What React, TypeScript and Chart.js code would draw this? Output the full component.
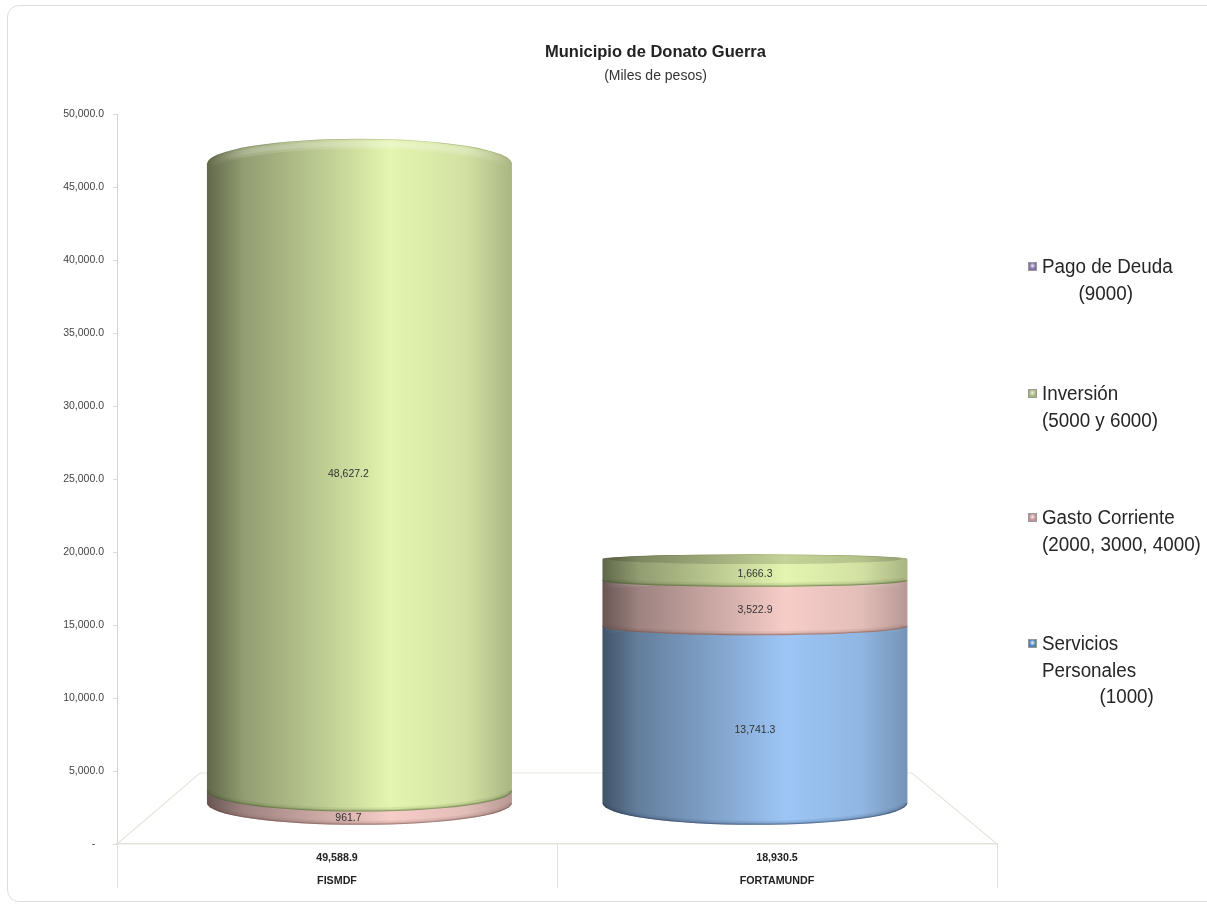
import React, { useEffect, useRef } from "react";
import { Chart, registerables } from "chart.js";

Chart.register(...registerables);

const categories = ["FISMDF", "FORTAMUNDF"];
const totals = ["49,588.9", "18,930.5"];
const serviciosPersonales = [0, 13741.3];
const gastoCorriente = [961.7, 3522.9];
const inversion = [48627.2, 1666.3];
const pagoDeuda = [0, 0];
const seriesNames = ["Servicios Personales", "Gasto Corriente", "Inversión", "Pago de Deuda"];
const legendRows = [
  { lines: ["Pago de Deuda", "       (9000)"], color: "#7d6ca8", top: 253 },
  { lines: ["Inversión", "(5000 y 6000)"], color: "#a6b878", top: 380 },
  { lines: ["Gasto Corriente", "(2000, 3000, 4000)"], color: "#c48f95", top: 504 },
  { lines: ["Servicios", "Personales", "           (1000)"], color: "#4a7fbe", top: 630 },
];
const brightColors = ["#9dc6f6", "#f7cdc8", "#e4f5b0", "#b7a6dc"];
const edgeColors = ["#2c3c58", "#6f4a46", "#46552c", "#4a3c70"];
const labelNudges = [
  [0, 16],
  [21, 7],
  [-3, 4],
  [0, 0],
];

const FONT = '"Liberation Sans", Arial, sans-serif';
const shade = [
  [0, 0.42],
  [0.12, 0.64],
  [0.42, 0.86],
  [0.6, 1.0],
  [0.85, 0.92],
  [1, 0.74],
];

function hexToRgb(hex: string) {
  return [1, 3, 5].map((i) => parseInt(hex.slice(i, i + 2), 16));
}

function bodyGradient(ctx: CanvasRenderingContext2D, left: number, right: number, hex: string, k = 1) {
  const [r, g, b] = hexToRgb(hex);
  const grad = ctx.createLinearGradient(left, 0, right, 0);
  shade.forEach(([at, m]) => {
    const f = m * k;
    grad.addColorStop(at, `rgb(${Math.round(r * f)},${Math.round(g * f)},${Math.round(b * f)})`);
  });
  return grad;
}

function capRadius(y: number) {
  return y > 520 ? 2 + 0.07 * (y - 520) : 2 + 0.065 * (520 - y);
}

const cylinderPlugin = {
  id: "cylinders",
  beforeDatasetsDraw(chart: any) {
    const { ctx, chartArea: a } = chart;
    const backY = 773;
    ctx.save();
    ctx.strokeStyle = "#e6e6de";
    ctx.lineWidth = 1.2;
    ctx.beginPath();
    ctx.moveTo(a.left, a.bottom);
    ctx.lineTo(a.left + 83, backY);
    ctx.lineTo(a.right - 85, backY);
    ctx.lineTo(a.right, a.bottom);
    ctx.stroke();
    ctx.restore();
  },
  beforeDatasetDraw() {
    return false;
  },
  afterDatasetsDraw(chart: any) {
    const { ctx } = chart;
    const count = chart.data.datasets.length;
    for (let d = 0; d < count; d++) {
      const meta = chart.getDatasetMeta(d);
      meta.data.forEach((bar: any, i: number) => {
        const value = chart.data.datasets[d].data[i].y;
        if (!value) return;
        const left = bar.x - bar.width / 2;
        const right = bar.x + bar.width / 2;
        const rx = bar.width / 2;
        const yTop = bar.y;
        const yBase = bar.base;
        const ryTop = capRadius(yTop);
        const ryBase = capRadius(yBase);
        const hex = brightColors[d];
        const isFlatTop = d === 2 && value < 5000;
        ctx.save();
        const silhouette = new Path2D();
        silhouette.ellipse(bar.x, yTop, rx, ryTop, 0, Math.PI, 2 * Math.PI);
        silhouette.lineTo(right, yBase);
        silhouette.ellipse(bar.x, yBase, rx, ryBase, 0, 0, Math.PI);
        silhouette.closePath();
        ctx.fillStyle = bodyGradient(ctx, left, right, hex);
        ctx.fill(silhouette);
        ctx.clip(silhouette);
        // soft shadow along the lower edge
        const edge = hexToRgb(edgeColors[d]).join(",");
        [
          [8, 0.1],
          [4, 0.2],
          [2, 0.4],
        ].forEach(([w, alpha]) => {
          ctx.beginPath();
          ctx.ellipse(bar.x, yBase, rx, ryBase, 0, 0, Math.PI);
          ctx.lineWidth = w;
          ctx.strokeStyle = `rgba(${edge},${alpha})`;
          ctx.stroke();
        });
        if (isFlatTop) {
          // short cylinder: a darker top face is visible
          ctx.beginPath();
          ctx.ellipse(bar.x, yTop, rx - 6, Math.max(ryTop, 5), 0, 0, 2 * Math.PI);
          ctx.fillStyle = bodyGradient(ctx, left, right, hex, 0.86);
          ctx.fill();
        } else {
          // soft light bevel that follows the top edge, fading at the sides
          const fade = ctx.createLinearGradient(left, 0, right, 0);
          fade.addColorStop(0, "rgba(255,255,255,0)");
          fade.addColorStop(0.15, "rgba(255,255,255,0.14)");
          fade.addColorStop(0.85, "rgba(255,255,255,0.14)");
          fade.addColorStop(1, "rgba(255,255,255,0)");
          ctx.strokeStyle = fade;
          [10, 5].forEach((w) => {
            ctx.lineWidth = w;
            ctx.beginPath();
            ctx.ellipse(bar.x, yTop + 5, rx, ryTop, 0, Math.PI, 2 * Math.PI);
            ctx.stroke();
          });
        }
        ctx.lineWidth = 1.5;
        ctx.strokeStyle = `rgba(${edge},0.25)`;
        ctx.beginPath();
        ctx.ellipse(bar.x, yTop, rx, ryTop, 0, Math.PI, 2 * Math.PI);
        ctx.stroke();
        ctx.restore();
      });
    }
    ctx.save();
    ctx.font = `10.5px ${FONT}`;
    ctx.fillStyle = "#333";
    ctx.textAlign = "center";
    ctx.textBaseline = "middle";
    for (let d = 0; d < count; d++) {
      chart.getDatasetMeta(d).data.forEach((bar: any, i: number) => {
        const value = chart.data.datasets[d].data[i].y;
        if (!value) return;
        const text = value.toLocaleString("en-US", { minimumFractionDigits: 1, maximumFractionDigits: 1 });
        ctx.fillText(text, bar.x + (i === 0 ? -11 : 0), (bar.y + bar.base) / 2 + labelNudges[d][i]);
      });
    }
    ctx.restore();
  },
};

export default function App() {
  const ref = useRef<HTMLCanvasElement>(null);
  useEffect(() => {
    const series = [serviciosPersonales, gastoCorriente, inversion, pagoDeuda];
    const chart = new Chart(ref.current!, {
      type: "bar",
      data: {
        labels: categories.map((c, i) => [totals[i], c]),
        datasets: series.map((values, d) => ({
          label: seriesNames[d],
          data: values.map((y, x) => ({ x, y })),
          xAxisID: "x1",
          yAxisID: "y1",
          stack: "total",
          barThickness: 305,
          backgroundColor: brightColors[d],
        })),
      } as any,
      options: {
        responsive: false,
        animation: false,
        layout: { padding: { left: 104, right: 0, top: 0, bottom: 0 } },
        plugins: {
          legend: { display: false },
          tooltip: { enabled: false },
          title: {
            display: true,
            text: "Municipio de Donato Guerra",
            color: "#222",
            font: { family: FONT, size: 16.5, weight: "bold", lineHeight: 1.2 },
            padding: { top: 43, bottom: 2 },
          },
          subtitle: {
            display: true,
            text: "(Miles de pesos)",
            color: "#333",
            font: { family: FONT, size: 14, lineHeight: 1.2 },
            padding: { top: 3, bottom: 30 },
          },
        },
        scales: {
          x: {
            type: "category",
            position: "bottom",
            offset: true,
            grid: { offset: true, drawOnChartArea: false, tickLength: 44, color: "#e2e2dc", lineWidth: 1 },
            border: { color: "#e2e2dc", width: 1.5 },
            ticks: {
              padding: -42,
              color: "#222",
              maxRotation: 0,
              font: { family: FONT, size: 10.7, weight: "bold", lineHeight: 2.2 },
            },
            afterFit(axis: any) {
              axis.height = 61;
            },
          },
          x1: {
            type: "linear",
            axis: "x",
            display: false,
            offset: false,
            grid: { offset: false },
            min: -0.613,
            max: 1.612,
          },
          y: {
            type: "linear",
            position: "left",
            min: 0,
            max: 50000,
            grid: { drawOnChartArea: false, tickLength: 4, color: "#dcdcdc" },
            border: { color: "#d4d4d4" },
            ticks: {
              stepSize: 5000,
              padding: 9,
              color: "#444",
              font: { family: FONT, size: 10.5 },
              callback: (v: any) =>
                v === 0
                  ? "-   "
                  : Number(v).toLocaleString("en-US", { minimumFractionDigits: 1, maximumFractionDigits: 1 }),
            },
            afterFit(axis: any) {
              axis.width = 13;
              // the labels sit left of the narrow axis box, so they must not be clipped to it
              axis._computeLabelArea = () => undefined;
            },
          },
          y1: {
            type: "linear",
            position: "right",
            stacked: true,
            min: -3178,
            max: 53411,
            grid: { display: false },
            border: { display: false },
            ticks: { display: false },
            afterFit(axis: any) {
              axis.width = 210;
            },
          },
        },
      } as any,
      plugins: [cylinderPlugin],
    });
    return () => chart.destroy();
  }, []);

  return (
    <div style={{ position: "fixed", left: 0, top: 0, width: 1207, height: 905, overflow: "hidden", background: "#fff" }}>
      <div
        style={{
          position: "absolute",
          left: 7,
          top: 5,
          width: 1240,
          height: 897,
          boxSizing: "border-box",
          border: "1px solid #dedede",
          borderRadius: 12,
        }}
      />
      <canvas ref={ref} width={1207} height={905} style={{ position: "absolute", left: 0, top: 0, display: "block" }} />
      {legendRows.map((row) => (
        <div key={row.lines[0]} style={{ position: "absolute", left: 1042, top: row.top }}>
          <span
            style={{
              position: "absolute",
              left: -14,
              top: 9,
              width: 9,
              height: 9,
              background: `radial-gradient(circle at 50% 40%, #eee 0, ${row.color} 60%)`,
              border: "1px solid #999",
              boxSizing: "border-box",
            }}
          />
          <div
            style={{
              font: `20px/26.5px ${FONT}`,
              color: "#262626",
              whiteSpace: "pre",
              transform: "scaleX(0.94)",
              transformOrigin: "left top",
            }}
          >
            {row.lines.join("\n")}
          </div>
        </div>
      ))}
    </div>
  );
}
